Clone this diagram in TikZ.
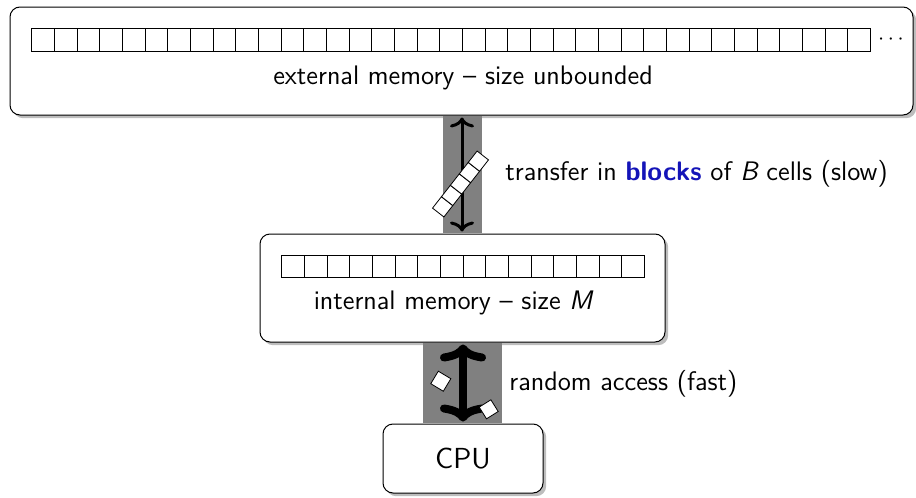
\documentclass[tikz,border=0pt]{standalone}
\usetikzlibrary{shadows,calc,arrows.meta}
\definecolor{band}{HTML}{808080}
\definecolor{shade}{HTML}{BDBDBD}
\definecolor{struct}{rgb}{0.08,0.08,0.72}
\begin{document}
\begin{tikzpicture}[x=0.5pt,y=-0.5pt,font=\sffamily\fontsize{13.4}{16}\selectfont,
  membox/.style={draw, line width=0.5pt, rounded corners=5pt, fill=white, inner sep=0pt,
     drop shadow={shadow xshift=1.6pt, shadow yshift=-1.6pt, fill=shade, opacity=1}},
  cell/.style={draw, line width=0.4pt, fill=white},
  blk/.style={draw, line width=0.4pt, fill=white, inner sep=0pt, minimum size=7.2pt},
  lbl/.style={inner sep=0pt, anchor=west}]
\useasboundingbox (0,0) rectangle (916,498);
% boxes
\node[membox, minimum width=451.5pt, minimum height=54pt] (ext) at (461.5,61) {};
\node[membox, minimum width=202.5pt, minimum height=54pt] (int) at (462.5,288) {};
\node[membox, minimum width=80pt, minimum height=34.5pt, font=\sffamily\fontsize{14.5}{17}\selectfont] (cpu) at (463,458.5) {CPU};
% bands
\fill[band] (443,115.6) rectangle (482,233.4);
\fill[band] (423,342.6) rectangle (502,423.4);
% cells
\foreach \i in {0,...,36} \draw[cell] (31.7+22.67*\i,28.7) rectangle +(22.67,23);
\node[inner sep=0pt, font=\sffamily\fontsize{11}{13}\selectfont] (dots) at (891,40) {$\cdots$};
\foreach \i in {0,...,15} \draw[cell] (281.7+22.67*\i,255.7) rectangle +(22.67,22);
\node[inner sep=0pt] (extlabel) at (463,78) {external memory -- size unbounded};
\node[inner sep=0pt] (intlabel) at (453,303) {internal memory -- size {\itshape M}};
% arrows
\draw[{To[length=5pt,width=12pt]}-{To[length=5pt,width=12pt]}, line width=1.5pt, shorten <=1pt, shorten >=1pt] (ext.south -| 462,0) -- (int.north -| 462,0);
\draw[{To[length=8.5pt,width=23pt]}-{To[length=8.5pt,width=23pt]}, line width=4pt, shorten <=1pt, shorten >=1pt] (int.south -| 463,0) -- (cpu.north -| 463,0);
% blocks in transfer
\foreach \k in {-2,...,2}
  \node[blk, rotate=52] (b\k) at (460.5+8.93*\k, 184-11.43*\k) {};
\node[blk, rotate=59, minimum size=7.3pt] (s1) at (440.8,381.2) {};
\node[blk, rotate=32, minimum size=6.9pt] (s2) at (488.7,409.3) {};
% labels
\node[lbl] (tlabel) at (505,174) {transfer in \textcolor{struct}{\bfseries blocks} of {\itshape B} cells (slow)};
\node[lbl] (rlabel) at (509,384) {random access (fast)};
\end{tikzpicture}
\end{document}
